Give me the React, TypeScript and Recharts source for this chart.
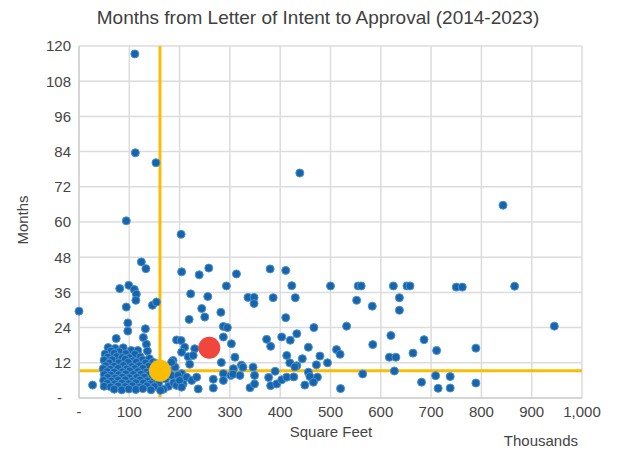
import {
  ScatterChart,
  Scatter,
  XAxis,
  YAxis,
  CartesianGrid,
  ReferenceLine,
} from "recharts";

// square feet (thousands), months
const outliers: [number, number][] = [
  [111, 117.3], [112, 83.6], [153, 80.2], [94, 60.4], [439, 76.7], [843, 65.7], [203, 55.8],
];

const leftPoints: [number, number][] = [
  [0, 29.6], [27, 4.4], [124, 46.4], [133, 44.1], [81, 37.3], [99, 38.4], [110, 37],
  [114, 35.4], [113, 33.3], [94, 31], [146, 31.6], [154, 32.7], [97, 25.6], [97, 22.8],
  [132, 23.6], [128, 20.6], [74, 20.3], [134, 18.3], [136, 16],
];

const midPoints: [number, number][] = [
  [204, 43], [239, 42], [258, 44.3], [313, 42.3], [380, 44], [411, 43.5], [293, 38.2],
  [222, 35.5], [256, 34.6], [336, 34.3], [348, 34.3], [348, 32.2], [386, 34.2], [430, 34.2],
  [423, 38.3], [244, 30.5], [250, 27.6], [219, 26.8], [282, 29.2], [411, 27.4], [287, 24.4],
  [295, 24], [287, 20.8], [303, 18.5], [373, 20], [381, 17.6], [403, 20.8], [420, 19.7],
  [433, 21.9], [413, 14.5], [419, 12], [433, 11], [310, 13.9], [283, 12.1], [194, 19.8],
  [203, 19.6], [210, 17.3], [204, 15.6], [217, 14.1], [220, 11.5], [230, 16.8], [227, 14.5],
  [187, 12.8], [191, 10.5], [323, 11.2], [307, 10], [326, 10.5], [346, 10.5], [429, 10.6],
  [500, 38.2], [555, 38.2], [561, 38.2], [625, 38.2], [652, 38.2], [658, 38.2], [552, 33.3],
  [583, 31.3], [637, 34.2], [637, 29.9], [467, 24], [532, 24.5], [456, 17.3], [444, 13.4],
  [479, 14.3], [472, 11.3], [494, 12], [512, 16.5], [519, 14.9], [584, 18.2], [620, 21.3],
  [617, 13.9], [630, 13.9], [686, 19.9], [664, 15.3], [711, 16.2], [750, 37.8], [762, 37.8],
  [866, 38.1], [945, 24.5], [789, 17],
];

const lowPoints: [number, number][] = [
  [204, 8.3], [214, 7.1], [224, 6], [207, 4.8], [234, 7.1], [237, 3.1], [267, 6.4],
  [267, 3.4], [287, 8.3], [287, 6], [302, 7.7], [306, 8.1], [320, 7.7], [340, 3.5],
  [349, 4.8], [349, 7.7], [377, 7], [381, 4.2], [393, 4.8], [390, 9.1], [403, 6.2],
  [413, 7.1], [427, 7.2], [449, 4.4], [456, 8.8], [459, 7.3], [474, 7.1], [466, 5.4],
  [520, 3.2], [564, 8.2], [627, 9.2], [681, 5.4], [709, 7.6], [714, 3.3], [738, 7.3],
  [738, 3.4], [789, 5.1], [172, 6.5], [178, 4], [184, 7.7], [188, 5.2], [194, 4.3],
  [197, 7.7], [200, 6], [204, 3.7], [168, 3], [176, 9.5], [184, 12.2],
];

const clusterPoints: [number, number][] = [
  [58, 17.2], [72, 16.9], [88, 17.1],
  [64, 16], [80, 15.8], [104, 16.2], [117, 16.2],
  [52, 15], [70, 15.2], [93, 15.1], [111, 14.9],
  [57, 13.9], [75, 14.1], [86, 13.8], [100, 13.7], [122, 14],
  [50, 12.9], [66, 13], [92, 13.2], [108, 12.7], [126, 13], [140, 13.4],
  [60, 11.9], [79, 12], [98, 12.1], [114, 12.2], [132, 11.9], [147, 12.2], [154, 11.7],
  [53, 11], [70, 10.8], [88, 11.1], [105, 10.7], [120, 11], [138, 10.8],
  [48, 10], [62, 9.8], [78, 10.1], [95, 9.9], [111, 10], [127, 10.1], [150, 10.2],
  [56, 9], [70, 8.8], [86, 8.9], [101, 9.2], [117, 9], [134, 8.8], [146, 9.1],
  [50, 8], [63, 7.8], [79, 7.9], [93, 8.2], [108, 8], [123, 8.1], [138, 7.8], [153, 7.9],
  [57, 7], [72, 6.8], [86, 7.1], [100, 6.9], [115, 7], [130, 7.1], [145, 6.8], [157, 6.9],
  [49, 6], [64, 5.8], [78, 6.1], [92, 6.2], [106, 5.7], [121, 6.1], [136, 5.8], [150, 6.2],
  [56, 5], [71, 4.8], [85, 5.1], [99, 4.9], [113, 5.2], [128, 5.1], [142, 4.8], [158, 4.9],
  [50, 4], [63, 3.8], [78, 4.1], [92, 3.9], [106, 4.2], [120, 3.7], [135, 4.1], [150, 3.9],
  [70, 3], [85, 2.8], [99, 3.1], [113, 2.9], [127, 3.2], [143, 2.8], [162, 2.6],
];

const averagePoint: [number, number] = [161, 9.3];
const highlightPoint: [number, number] = [259, 17.1];

const xTicks = [0, 100, 200, 300, 400, 500, 600, 700, 800, 900, 1000];
const yTicks = [0, 12, 24, 36, 48, 60, 72, 84, 96, 108, 120];

const toRows = (pts: [number, number][]) => pts.map(([x, y]) => ({ x, y }));

const projects = toRows([
  ...outliers,
  ...leftPoints,
  ...midPoints,
  ...lowPoints,
  ...clusterPoints,
]);

const FONT = "'Liberation Sans', Arial, sans-serif";
const TEXT = "#444444";
const BLUE = "#1765a8";
const YELLOW = "#fbbc04";
const RED = "#f0463d";

function BlueDot(props: any) {
  return (
    <circle cx={props.cx} cy={props.cy} r={4} fill={BLUE} stroke="#4a90d6" strokeWidth={1} />
  );
}

function BigDot(color: string) {
  return (props: any) => <circle cx={props.cx} cy={props.cy} r={11} fill={color} />;
}

function YTick(props: any) {
  const { x, y, payload } = props;
  const zero = payload.value === 0;
  return (
    <text
      x={zero ? x - 9 : x}
      y={y}
      dy="0.355em"
      textAnchor="end"
      fill={TEXT}
      fontSize={15}
      fontFamily={FONT}
    >
      {zero ? "-" : payload.value}
    </text>
  );
}

export default function App() {
  return (
    <div style={{ position: "relative", width: 602, height: 440, fontFamily: FONT }}>
      <div
        style={{
          position: "absolute",
          left: 0,
          width: 620,
          top: -1,
          textAlign: "center",
          fontSize: 19,
          color: "#404040",
        }}
      >
        Months from Letter of Intent to Approval (2014-2023)
      </div>
      <div
        style={{
          position: "absolute",
          left: 14,
          top: 212,
          transform: "translate(-50%, -50%) rotate(-90deg)",
          fontSize: 15,
          color: TEXT,
        }}
      >
        Months
      </div>
      <div
        style={{
          position: "absolute",
          left: 323,
          top: 423,
          transform: "translate(-50%, -50%)",
          fontSize: 15,
          lineHeight: "15px",
          color: TEXT,
          whiteSpace: "nowrap",
        }}
      >
        Square Feet
      </div>
      <div
        style={{
          position: "absolute",
          right: 32,
          top: 432,
          transform: "translateY(-50%)",
          fontSize: 15,
          lineHeight: "15px",
          color: TEXT,
        }}
      >
        Thousands
      </div>
      <ScatterChart
        width={602}
        height={440}
        margin={{ top: 38, right: 28, left: 11, bottom: 20 }}
      >
        <CartesianGrid stroke="#dcdcdc" strokeWidth={1.5} />
        <XAxis
          type="number"
          dataKey="x"
          domain={[0, 1000]}
          ticks={xTicks}
          height={30}
          tickLine={false}
          axisLine={{ stroke: "#d0d0d0", strokeWidth: 1.5 }}
          tickMargin={2}
          tick={{ fill: TEXT, fontSize: 15, fontFamily: FONT }}
          tickFormatter={(v: number) => (v === 0 ? "-" : v.toLocaleString("en-US"))}
        />
        <YAxis
          type="number"
          dataKey="y"
          domain={[0, 120]}
          ticks={yTicks}
          width={60}
          tickLine={false}
          axisLine={{ stroke: "#d0d0d0", strokeWidth: 1.5 }}
          tick={<YTick />}
        />
        <Scatter data={projects} shape={BlueDot} isAnimationActive={false} />
        <ReferenceLine x={averagePoint[0]} stroke={YELLOW} strokeWidth={3} />
        <ReferenceLine y={averagePoint[1]} stroke={YELLOW} strokeWidth={3} />
        <Scatter
          data={toRows([highlightPoint])}
          shape={BigDot(RED)}
          isAnimationActive={false}
        />
        <Scatter
          data={toRows([averagePoint])}
          shape={BigDot(YELLOW)}
          isAnimationActive={false}
        />
      </ScatterChart>
    </div>
  );
}
